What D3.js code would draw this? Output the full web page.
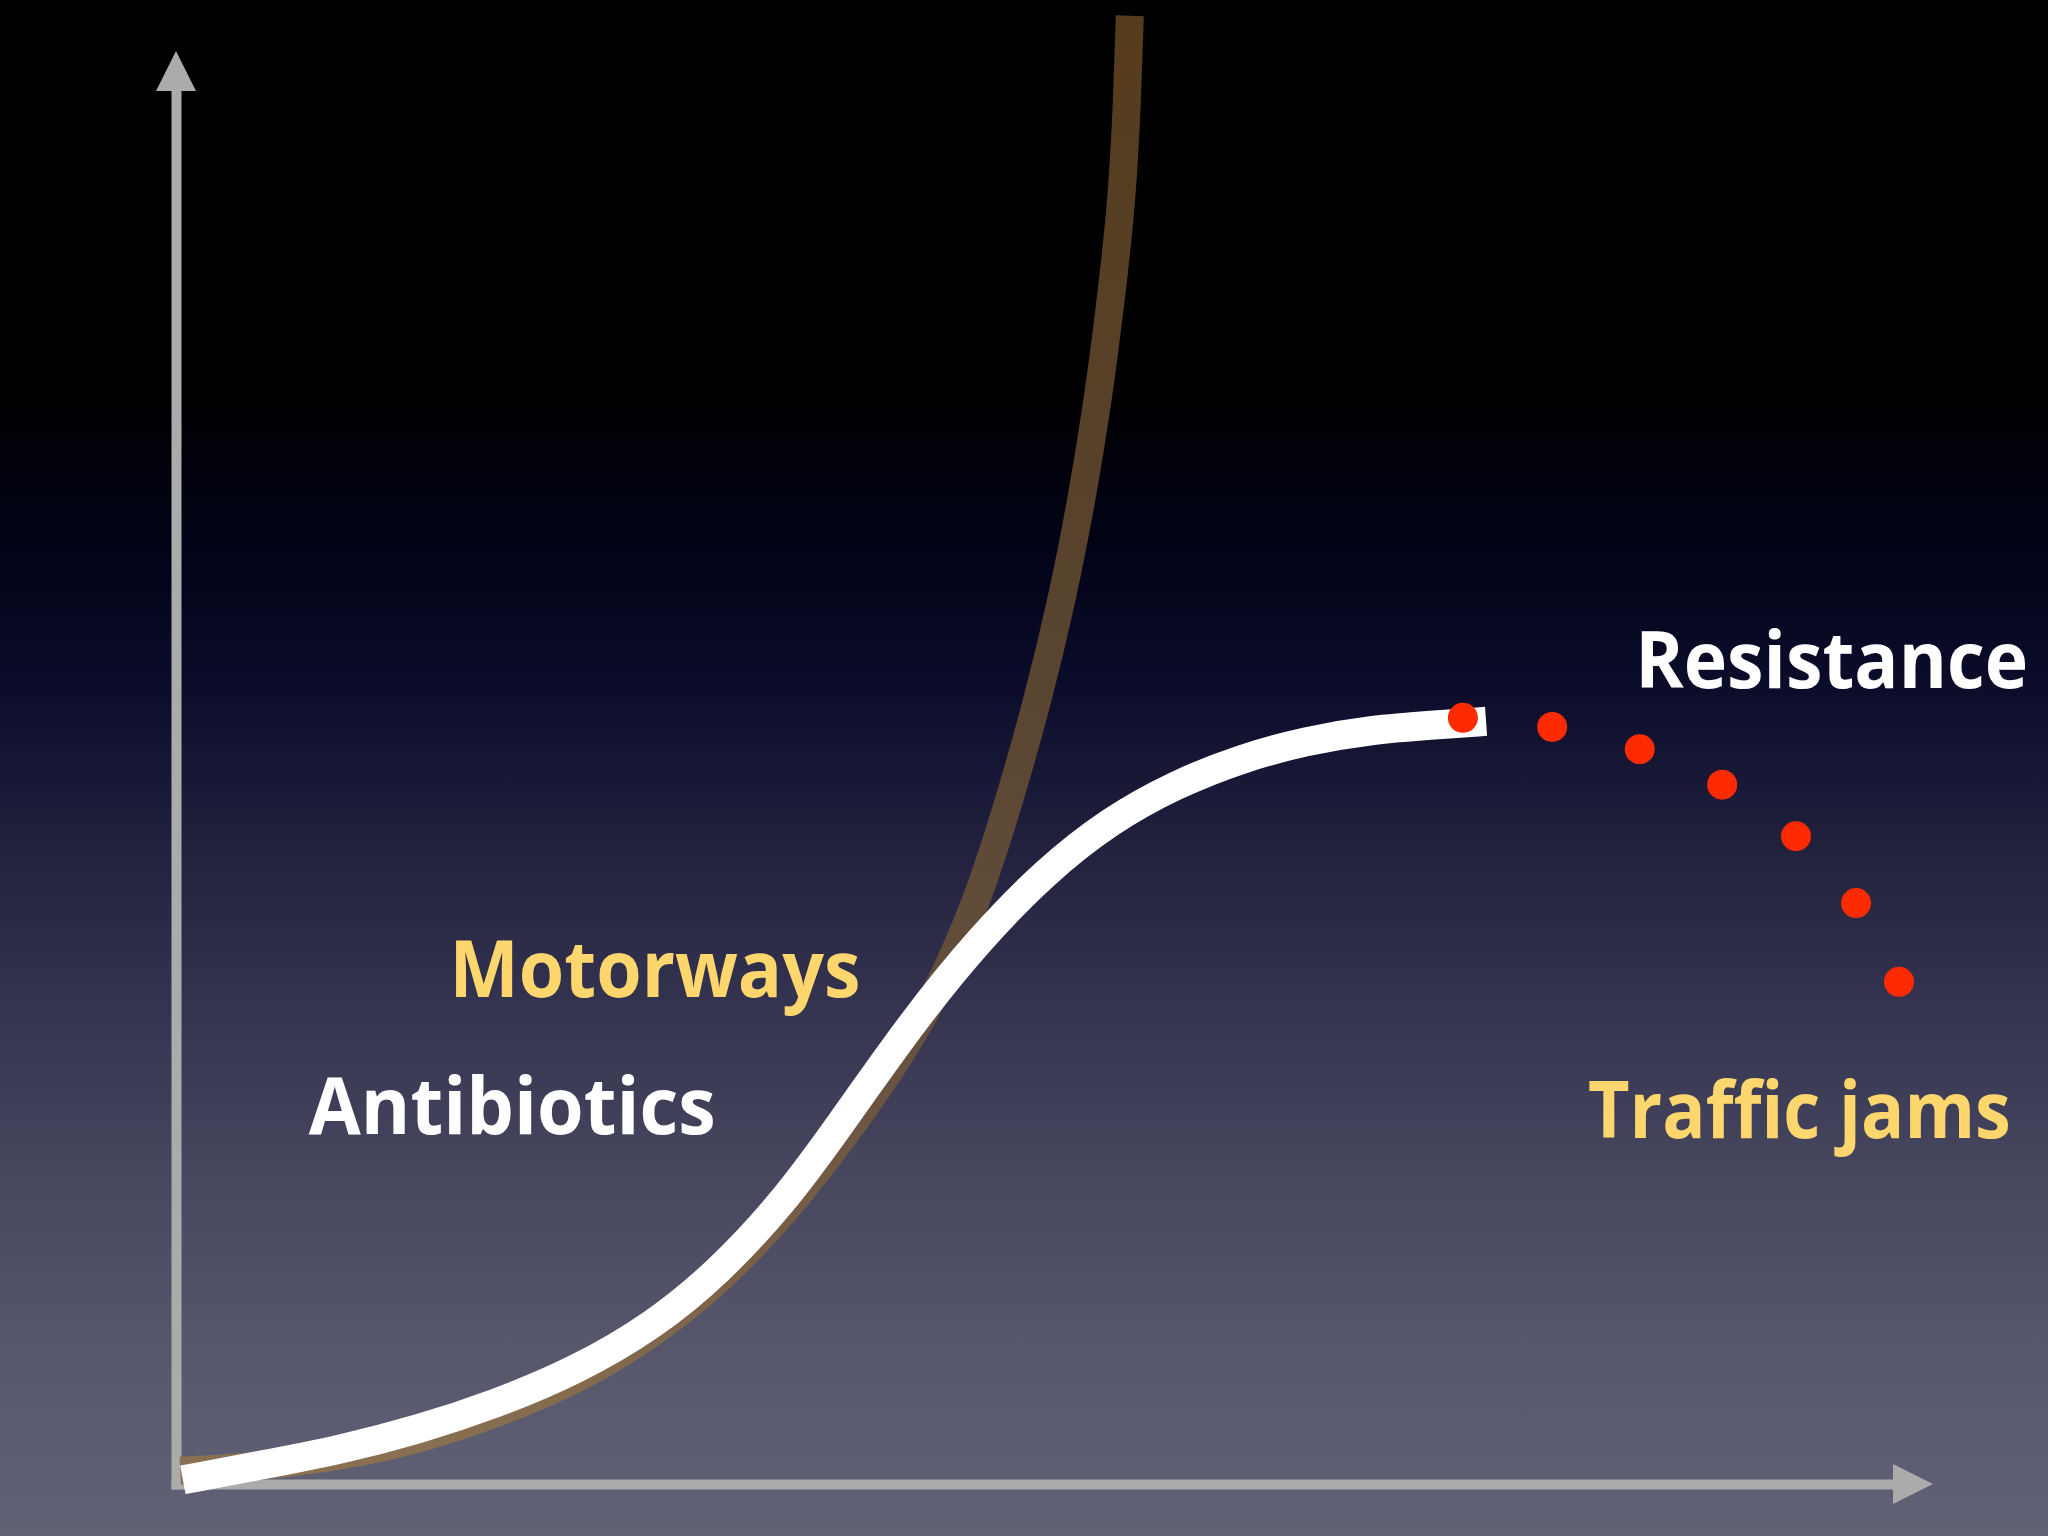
<!DOCTYPE html>
<html>
<head>
<meta charset="utf-8">
<script src="https://cdn.jsdelivr.net/npm/d3@7"></script>
<style>
  html, body { margin: 0; padding: 0; background: #000; }
  svg { display: block; }
</style>
</head>
<body>
<div id="chart"></div>
<script>
const WIDTH = 2048
const HEIGHT = 1536

// white S-curve: growth that levels off
const sCurveX = [0.4, 4.95, 9.55, 14.1, 18.65, 23.25, 27.8, 31.55, 35.4, 38.45, 43.0, 46.85, 50.6, 54.4, 58.25, 62.05, 65.8, 69.6, 73.45, 76.3]
const sCurveY = [0.3, 1.35, 2.45, 3.9, 5.75, 8.1, 11.35, 15.15, 20.25, 25.4, 33.4, 39.2, 43.95, 47.65, 50.25, 52.1, 53.35, 54.15, 54.5, 54.75]

// brown curve: growth that keeps accelerating
const expCurveX = [0.25, 4.9, 9.55, 14.2, 18.85, 23.55, 27.9, 31.7, 35.45, 38.65, 41.6, 44.2, 46.7, 48.55, 50.2, 51.6, 52.75, 53.7, 54.45, 55.1, 55.4, 55.55]
const expCurveY = [0.95, 1.25, 1.95, 3.2, 5.1, 7.55, 10.85, 14.6, 19.45, 24.5, 29.6, 34.85, 41.9, 49.1, 56.3, 63.45, 70.65, 77.8, 85.0, 92.2, 99.35, 105.4]

// red dots: the decline after the plateau
const declineX = [74.95, 80.15, 85.25, 90.05, 94.35, 97.85, 100.35]
const declineY = [55.0, 54.35, 52.75, 50.2, 46.5, 41.7, 36.05]

// annotations, anchored in data units (left edge, baseline)
const labelText = ['Resistance', 'Traffic jams', 'Motorways', 'Antibiotics']
const labelX = [85.1, 82.35, 16.05, 7.85]
const labelY = [57.15, 24.85, 34.95, 25.1]

const LABEL_COLOR = { 'Resistance': '#ffffff', 'Traffic jams': '#fdd66e', 'Motorways': '#fdd66e', 'Antibiotics': '#ffffff' }
const LABEL_WIDTH = { 'Resistance': 393, 'Traffic jams': 423, 'Motorways': 411, 'Antibiotics': 407 }

const BG_STOPS = [
  [0, '#000000'], [0.25, '#000000'], [0.36, '#020318'], [0.45, '#0c0d2b'],
  [0.55, '#21213e'], [0.65, '#333350'], [0.75, '#44445d'], [0.87, '#55556b'], [1, '#626277']
]
const AXIS_COLOR = '#ababab'

const x = d3.scaleLinear().domain([0, 100]).range([176, 1893])
const y = d3.scaleLinear().domain([0, 100]).range([1484, 91])

const svg = d3.select('#chart').append('svg')
  .attr('width', WIDTH)
  .attr('height', HEIGHT)

const defs = svg.append('defs')

function renderBackground() {
  const grad = defs.append('linearGradient')
    .attr('id', 'bg-grad')
    .attr('x1', 0).attr('y1', 0)
    .attr('x2', 0).attr('y2', 1)
  BG_STOPS.forEach(([o, c]) => grad.append('stop').attr('offset', o).attr('stop-color', c))

  svg.append('rect')
    .attr('width', WIDTH)
    .attr('height', HEIGHT)
    .attr('fill', 'url(#bg-grad)')
}

function renderAxes() {
  // bare axes, no ticks - just the domain lines
  const xAxis = d3.axisBottom(x).tickValues([]).tickSizeOuter(0)
  const yAxis = d3.axisLeft(y).tickValues([]).tickSizeOuter(0)

  svg.append('g').attr('transform', `translate(0, ${y(0)})`).call(xAxis)
  svg.append('g').attr('transform', `translate(${x(0)}, 0)`).call(yAxis)

  svg.selectAll('.domain')
    .attr('stroke', AXIS_COLOR)
    .attr('stroke-width', 10)
    .attr('stroke-linecap', 'square')

  // arrow heads
  const head = 40, half = 20
  svg.append('path')
    .attr('d', `M${x(100)},${y(0) - half}L${x(100) + head},${y(0)}L${x(100)},${y(0) + half}Z`)
    .attr('fill', AXIS_COLOR)
  svg.append('path')
    .attr('d', `M${x(0) - half},${y(100)}L${x(0)},${y(100) - head}L${x(0) + half},${y(100)}Z`)
    .attr('fill', AXIS_COLOR)
}

const lineGen = d3.line()
  .x(d => x(d[0]))
  .y(d => y(d[1]))
  .curve(d3.curveBasis)

function renderExpCurve() {
  const pts = expCurveX.map((v, i) => [v, expCurveY[i]])
  const grad = defs.append('linearGradient')
    .attr('id', 'brown-grad')
    .attr('gradientUnits', 'userSpaceOnUse')
    .attr('x1', 0).attr('x2', 0)
    .attr('y1', y(d3.max(expCurveY)))
    .attr('y2', y(d3.min(expCurveY)))
  grad.append('stop').attr('offset', 0).attr('stop-color', '#553c1c')
  grad.append('stop').attr('offset', 0.45).attr('stop-color', '#594430')
  grad.append('stop').attr('offset', 0.7).attr('stop-color', '#654f3e')
  grad.append('stop').attr('offset', 1).attr('stop-color', '#8b7152')

  svg.append('path')
    .datum(pts)
    .attr('d', lineGen)
    .attr('fill', 'none')
    .attr('stroke', 'url(#brown-grad)')
    .attr('stroke-width', 28)
    .attr('stroke-linecap', 'butt')
}

function renderSCurve() {
  const pts = sCurveX.map((v, i) => [v, sCurveY[i]])
  svg.append('path')
    .datum(pts)
    .attr('d', lineGen)
    .attr('fill', 'none')
    .attr('stroke', '#ffffff')
    .attr('stroke-width', 29)
    .attr('stroke-linecap', 'butt')
}

function renderDecline() {
  svg.selectAll('.decline-dot')
    .data(declineX.map((v, i) => [v, declineY[i]]))
    .enter()
    .append('circle')
    .attr('class', 'decline-dot')
    .attr('cx', d => x(d[0]))
    .attr('cy', d => y(d[1]))
    .attr('r', 15)
    .attr('fill', '#fe2a00')
}

function renderLabels() {
  svg.selectAll('.label')
    .data(labelText.map((t, i) => ({ text: t, x: labelX[i], y: labelY[i] })))
    .enter()
    .append('text')
    .attr('class', 'label')
    .attr('x', 0)
    .attr('y', 0)
    .attr('font-family', "'Open Sans', 'Noto Sans', sans-serif")
    .attr('font-weight', 700)
    .attr('font-size', 79)
    .attr('fill', d => LABEL_COLOR[d.text])
    .text(d => d.text)
    .each(function (d) {
      // squeeze the wider fallback font to the width in the picture
      const k = LABEL_WIDTH[d.text] / this.getComputedTextLength()
      d3.select(this).attr('transform', `translate(${x(d.x) - 2}, ${y(d.y)}) scale(${k}, 1)`)
    })
}

renderBackground()
renderAxes()
renderExpCurve()
renderSCurve()
renderDecline()
renderLabels()
</script>
</body>
</html>
